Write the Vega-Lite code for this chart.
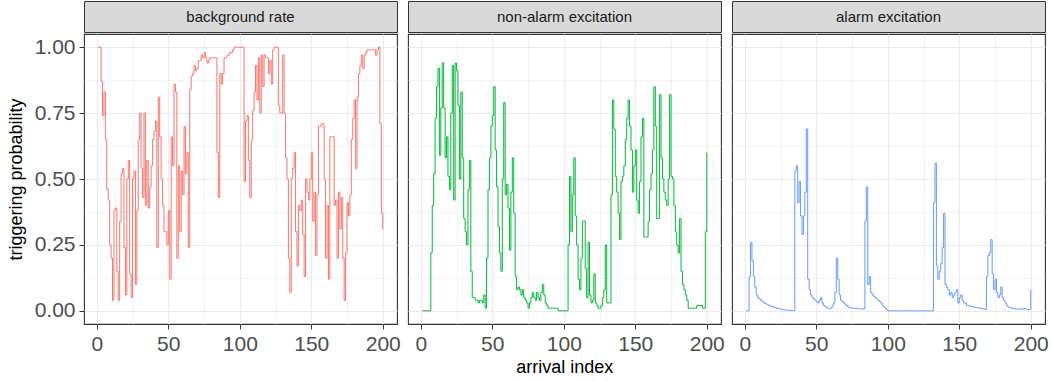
{
  "$schema": "https://vega.github.io/schema/vega-lite/v6.json",
  "padding": {"left": 6, "top": 0, "right": 0, "bottom": 0},
  "config": {
    "font": "Liberation Sans",
    "view": {"stroke": "#333333", "strokeWidth": 1.1},
    "axis": {"domain": false, "gridColor": "#EBEBEB", "tickColor": "#333333", "tickSize": 5, "labelColor": "#4D4D4D", "labelFontSize": 21, "labelPadding": 4, "titleFontSize": 18, "titleColor": "#000000", "titleFontWeight": "normal", "labelOverlap": false},
    "concat": {"spacing": 6}
  },
  "title": {"text": "arrival index", "orient": "bottom", "anchor": "middle", "fontSize": 18, "fontWeight": "normal", "color": "#000000", "offset": 4, "dx": 37},
  "datasets": {
    "bg": [{"i":1,"p":1},{"i":2,"p":1},{"i":3,"p":0.87},{"i":4,"p":0.74},{"i":5,"p":0.83},{"i":6,"p":0.65},{"i":7,"p":0.46},{"i":8,"p":0.42},{"i":9,"p":0.25},{"i":10,"p":0.2},{"i":11,"p":0.04},{"i":12,"p":0.38},{"i":13,"p":0.39},{"i":14,"p":0.15},{"i":15,"p":0.04},{"i":16,"p":0.34},{"i":17,"p":0.52},{"i":18,"p":0.54},{"i":19,"p":0.24},{"i":20,"p":0.06},{"i":21,"p":0.5},{"i":22,"p":0.57},{"i":23,"p":0.14},{"i":24,"p":0.05},{"i":25,"p":0.5},{"i":26,"p":0.53},{"i":27,"p":0.1},{"i":28,"p":0.38},{"i":29,"p":0.65},{"i":30,"p":0.75},{"i":31,"p":0.54},{"i":32,"p":0.43},{"i":33,"p":0.75},{"i":34,"p":0.4},{"i":35,"p":0.57},{"i":36,"p":0.39},{"i":37,"p":0.47},{"i":38,"p":0.55},{"i":39,"p":0.65},{"i":40,"p":0.68},{"i":41,"p":0.72},{"i":42,"p":0.24},{"i":43,"p":0.81},{"i":44,"p":0.66},{"i":45,"p":0.5},{"i":46,"p":0.4},{"i":47,"p":0.3},{"i":48,"p":0.3},{"i":49,"p":0.25},{"i":50,"p":0.38},{"i":51,"p":0.12},{"i":52,"p":0.66},{"i":53,"p":0.55},{"i":54,"p":0.86},{"i":55,"p":0.83},{"i":56,"p":0.2},{"i":57,"p":0.55},{"i":58,"p":0.3},{"i":59,"p":0.53},{"i":60,"p":0.44},{"i":61,"p":0.7},{"i":62,"p":0.52},{"i":63,"p":0.6},{"i":64,"p":0.24},{"i":65,"p":0.84},{"i":66,"p":0.89},{"i":67,"p":0.9},{"i":68,"p":0.93},{"i":69,"p":0.91},{"i":70,"p":0.92},{"i":71,"p":0.95},{"i":72,"p":0.95},{"i":73,"p":0.97},{"i":74,"p":0.96},{"i":75,"p":0.98},{"i":76,"p":0.96},{"i":77,"p":0.94},{"i":78,"p":0.95},{"i":79,"p":0.96},{"i":80,"p":0.96},{"i":81,"p":0.96},{"i":82,"p":0.96},{"i":83,"p":0.96},{"i":84,"p":0.6},{"i":85,"p":0.43},{"i":86,"p":0.9},{"i":87,"p":0.86},{"i":88,"p":0.9},{"i":89,"p":0.96},{"i":90,"p":0.96},{"i":91,"p":0.97},{"i":92,"p":0.97},{"i":93,"p":0.98},{"i":94,"p":0.98},{"i":95,"p":0.99},{"i":96,"p":1},{"i":97,"p":1},{"i":98,"p":1},{"i":99,"p":1},{"i":100,"p":1},{"i":101,"p":1},{"i":102,"p":1},{"i":103,"p":0.49},{"i":104,"p":0.72},{"i":105,"p":0.74},{"i":106,"p":0.57},{"i":107,"p":0.43},{"i":108,"p":0.65},{"i":109,"p":0.76},{"i":110,"p":0.83},{"i":111,"p":0.93},{"i":112,"p":0.8},{"i":113,"p":0.96},{"i":114,"p":0.75},{"i":115,"p":0.97},{"i":116,"p":0.85},{"i":117,"p":0.97},{"i":118,"p":0.96},{"i":119,"p":0.96},{"i":120,"p":0.9},{"i":121,"p":0.95},{"i":122,"p":0.86},{"i":123,"p":0.99},{"i":124,"p":1},{"i":125,"p":1},{"i":126,"p":1},{"i":127,"p":0.78},{"i":128,"p":0.75},{"i":129,"p":0.75},{"i":130,"p":0.97},{"i":131,"p":0.75},{"i":132,"p":0.58},{"i":133,"p":0.5},{"i":134,"p":0.2},{"i":135,"p":0.07},{"i":136,"p":0.5},{"i":137,"p":0.54},{"i":138,"p":0.6},{"i":139,"p":0.3},{"i":140,"p":0.17},{"i":141,"p":0.4},{"i":142,"p":0.38},{"i":143,"p":0.42},{"i":144,"p":0.29},{"i":145,"p":0.13},{"i":146,"p":0.5},{"i":147,"p":0.45},{"i":148,"p":0.42},{"i":149,"p":0.5},{"i":150,"p":0.6},{"i":151,"p":0.34},{"i":152,"p":0.45},{"i":153,"p":0.21},{"i":154,"p":0.44},{"i":155,"p":0.7},{"i":156,"p":0.7},{"i":157,"p":0.71},{"i":158,"p":0.71},{"i":159,"p":0.5},{"i":160,"p":0.2},{"i":161,"p":0.4},{"i":162,"p":0.12},{"i":163,"p":0.66},{"i":164,"p":0.66},{"i":165,"p":0.66},{"i":166,"p":0.4},{"i":167,"p":0.42},{"i":168,"p":0.2},{"i":169,"p":0.45},{"i":170,"p":0.31},{"i":171,"p":0.43},{"i":172,"p":0.2},{"i":173,"p":0.04},{"i":174,"p":0.22},{"i":175,"p":0.41},{"i":176,"p":0.36},{"i":177,"p":0.44},{"i":178,"p":0.65},{"i":179,"p":0.73},{"i":180,"p":0.8},{"i":181,"p":0.54},{"i":182,"p":0.81},{"i":183,"p":0.9},{"i":184,"p":0.93},{"i":185,"p":0.97},{"i":186,"p":0.92},{"i":187,"p":0.97},{"i":188,"p":0.98},{"i":189,"p":0.99},{"i":190,"p":0.99},{"i":191,"p":0.99},{"i":192,"p":0.99},{"i":193,"p":0.99},{"i":194,"p":0.99},{"i":195,"p":0.97},{"i":196,"p":0.99},{"i":197,"p":1},{"i":198,"p":0.71},{"i":199,"p":0.37},{"i":200,"p":0.31}],
    "na": [{"i":1,"p":0},{"i":2,"p":0},{"i":3,"p":0},{"i":4,"p":0},{"i":5,"p":0},{"i":6,"p":0},{"i":7,"p":0.22},{"i":8,"p":0.4},{"i":9,"p":0.52},{"i":10,"p":0.73},{"i":11,"p":0.85},{"i":12,"p":0.92},{"i":13,"p":0.59},{"i":14,"p":0.77},{"i":15,"p":0.94},{"i":16,"p":0.77},{"i":17,"p":0.58},{"i":18,"p":0.66},{"i":19,"p":0.51},{"i":20,"p":0.46},{"i":21,"p":0.75},{"i":22,"p":0.93},{"i":23,"p":0.42},{"i":24,"p":0.94},{"i":25,"p":0.91},{"i":26,"p":0.78},{"i":27,"p":0.5},{"i":28,"p":0.83},{"i":29,"p":0.58},{"i":30,"p":0.35},{"i":31,"p":0.3},{"i":32,"p":0.25},{"i":33,"p":0.46},{"i":34,"p":0.57},{"i":35,"p":0.15},{"i":36,"p":0.05},{"i":37,"p":0.05},{"i":38,"p":0.04},{"i":39,"p":0.04},{"i":40,"p":0.03},{"i":41,"p":0.04},{"i":42,"p":0.04},{"i":43,"p":0.03},{"i":44,"p":0.06},{"i":45,"p":0.01},{"i":46,"p":0.2},{"i":47,"p":0.46},{"i":48,"p":0.58},{"i":49,"p":0.7},{"i":50,"p":0.74},{"i":51,"p":0.85},{"i":52,"p":0.61},{"i":53,"p":0.47},{"i":54,"p":0.32},{"i":55,"p":0.22},{"i":56,"p":0.15},{"i":57,"p":0.5},{"i":58,"p":0.79},{"i":59,"p":0.44},{"i":60,"p":0.48},{"i":61,"p":0.39},{"i":62,"p":0.23},{"i":63,"p":0.45},{"i":64,"p":0.58},{"i":65,"p":0.37},{"i":66,"p":0.13},{"i":67,"p":0.08},{"i":68,"p":0.09},{"i":69,"p":0.08},{"i":70,"p":0.06},{"i":71,"p":0.08},{"i":72,"p":0.05},{"i":73,"p":0.04},{"i":74,"p":0.03},{"i":75,"p":0.01},{"i":76,"p":0.03},{"i":77,"p":0.05},{"i":78,"p":0.07},{"i":79,"p":0.05},{"i":80,"p":0.04},{"i":81,"p":0.07},{"i":82,"p":0.05},{"i":83,"p":0.04},{"i":84,"p":0.07},{"i":85,"p":0.1},{"i":86,"p":0.06},{"i":87,"p":0.03},{"i":88,"p":0.02},{"i":89,"p":0.01},{"i":90,"p":0.01},{"i":91,"p":0.01},{"i":92,"p":0.01},{"i":93,"p":0.01},{"i":94,"p":0.01},{"i":95,"p":0.01},{"i":96,"p":0},{"i":97,"p":0},{"i":98,"p":0},{"i":99,"p":0},{"i":100,"p":0},{"i":101,"p":0},{"i":102,"p":0},{"i":103,"p":0.25},{"i":104,"p":0.51},{"i":105,"p":0.3},{"i":106,"p":0.44},{"i":107,"p":0.58},{"i":108,"p":0.36},{"i":109,"p":0.25},{"i":110,"p":0.12},{"i":111,"p":0.08},{"i":112,"p":0.2},{"i":113,"p":0.34},{"i":114,"p":0.34},{"i":115,"p":0.16},{"i":116,"p":0.05},{"i":117,"p":0.26},{"i":118,"p":0.06},{"i":119,"p":0.03},{"i":120,"p":0.04},{"i":121,"p":0.14},{"i":122,"p":0.03},{"i":123,"p":0.02},{"i":124,"p":0.01},{"i":125,"p":0.01},{"i":126,"p":0.02},{"i":127,"p":0.05},{"i":128,"p":0.08},{"i":129,"p":0.25},{"i":130,"p":0.03},{"i":131,"p":0.03},{"i":132,"p":0.03},{"i":133,"p":0.44},{"i":134,"p":0.8},{"i":135,"p":0.69},{"i":136,"p":0.51},{"i":137,"p":0.45},{"i":138,"p":0.37},{"i":139,"p":0.27},{"i":140,"p":0.49},{"i":141,"p":0.51},{"i":142,"p":0.55},{"i":143,"p":0.65},{"i":144,"p":0.73},{"i":145,"p":0.8},{"i":146,"p":0.7},{"i":147,"p":0.61},{"i":148,"p":0.45},{"i":149,"p":0.55},{"i":150,"p":0.61},{"i":151,"p":0.42},{"i":152,"p":0.37},{"i":153,"p":0.49},{"i":154,"p":0.66},{"i":155,"p":0.73},{"i":156,"p":0.28},{"i":157,"p":0.28},{"i":158,"p":0.28},{"i":159,"p":0.34},{"i":160,"p":0.46},{"i":161,"p":0.52},{"i":162,"p":0.61},{"i":163,"p":0.85},{"i":164,"p":0.7},{"i":165,"p":0.35},{"i":166,"p":0.35},{"i":167,"p":0.82},{"i":168,"p":0.58},{"i":169,"p":0.5},{"i":170,"p":0.45},{"i":171,"p":0.42},{"i":172,"p":0.4},{"i":173,"p":0.5},{"i":174,"p":0.82},{"i":175,"p":0.51},{"i":176,"p":0.5},{"i":177,"p":0.4},{"i":178,"p":0.3},{"i":179,"p":0.25},{"i":180,"p":0.22},{"i":181,"p":0.35},{"i":182,"p":0.15},{"i":183,"p":0.1},{"i":184,"p":0.08},{"i":185,"p":0.06},{"i":186,"p":0.04},{"i":187,"p":0.01},{"i":188,"p":0.01},{"i":189,"p":0.01},{"i":190,"p":0.01},{"i":191,"p":0.01},{"i":192,"p":0.01},{"i":193,"p":0.02},{"i":194,"p":0.02},{"i":195,"p":0.02},{"i":196,"p":0.02},{"i":197,"p":0.01},{"i":198,"p":0.01},{"i":199,"p":0.3},{"i":200,"p":0.6}],
    "al": [{"i":1,"p":0},{"i":2,"p":0},{"i":3,"p":0.13},{"i":4,"p":0.26},{"i":5,"p":0.19},{"i":6,"p":0.13},{"i":7,"p":0.09},{"i":8,"p":0.06},{"i":9,"p":0.05},{"i":10,"p":0.045},{"i":11,"p":0.04},{"i":12,"p":0.035},{"i":13,"p":0.03},{"i":14,"p":0.028},{"i":15,"p":0.025},{"i":16,"p":0.022},{"i":17,"p":0.02},{"i":18,"p":0.018},{"i":19,"p":0.016},{"i":20,"p":0.014},{"i":21,"p":0.012},{"i":22,"p":0.01},{"i":23,"p":0.01},{"i":24,"p":0.008},{"i":25,"p":0.006},{"i":26,"p":0.004},{"i":27,"p":0.004},{"i":28,"p":0.003},{"i":29,"p":0.003},{"i":30,"p":0.002},{"i":31,"p":0.002},{"i":32,"p":0.001},{"i":33,"p":0.001},{"i":34,"p":0},{"i":35,"p":0.53},{"i":36,"p":0.55},{"i":37,"p":0.41},{"i":38,"p":0.49},{"i":39,"p":0.36},{"i":40,"p":0.29},{"i":41,"p":0.36},{"i":42,"p":0.45},{"i":43,"p":0.69},{"i":44,"p":0.12},{"i":45,"p":0.08},{"i":46,"p":0.06},{"i":47,"p":0.05},{"i":48,"p":0.045},{"i":49,"p":0.04},{"i":50,"p":0.035},{"i":51,"p":0.03},{"i":52,"p":0.04},{"i":53,"p":0.05},{"i":54,"p":0.03},{"i":55,"p":0.02},{"i":56,"p":0.015},{"i":57,"p":0.012},{"i":58,"p":0.01},{"i":59,"p":0.008},{"i":60,"p":0.01},{"i":61,"p":0.02},{"i":62,"p":0.03},{"i":63,"p":0.07},{"i":64,"p":0.2},{"i":65,"p":0.12},{"i":66,"p":0.06},{"i":67,"p":0.04},{"i":68,"p":0.035},{"i":69,"p":0.03},{"i":70,"p":0.025},{"i":71,"p":0.02},{"i":72,"p":0.015},{"i":73,"p":0.012},{"i":74,"p":0.011},{"i":75,"p":0.01},{"i":76,"p":0.01},{"i":77,"p":0.009},{"i":78,"p":0.009},{"i":79,"p":0.008},{"i":80,"p":0.008},{"i":81,"p":0.007},{"i":82,"p":0.007},{"i":83,"p":0.007},{"i":84,"p":0.34},{"i":85,"p":0.47},{"i":86,"p":0.1},{"i":87,"p":0.13},{"i":88,"p":0.07},{"i":89,"p":0.06},{"i":90,"p":0.055},{"i":91,"p":0.05},{"i":92,"p":0.045},{"i":93,"p":0.04},{"i":94,"p":0.035},{"i":95,"p":0.03},{"i":96,"p":0.02},{"i":97,"p":0.015},{"i":98,"p":0.01},{"i":99,"p":0.005},{"i":100,"p":0},{"i":101,"p":0},{"i":102,"p":0},{"i":103,"p":0},{"i":104,"p":0},{"i":105,"p":0},{"i":106,"p":0},{"i":107,"p":0},{"i":108,"p":0},{"i":109,"p":0},{"i":110,"p":0},{"i":111,"p":0},{"i":112,"p":0},{"i":113,"p":0},{"i":114,"p":0},{"i":115,"p":0},{"i":116,"p":0},{"i":117,"p":0},{"i":118,"p":0},{"i":119,"p":0},{"i":120,"p":0},{"i":121,"p":0},{"i":122,"p":0},{"i":123,"p":0},{"i":124,"p":0},{"i":125,"p":0},{"i":126,"p":0},{"i":127,"p":0},{"i":128,"p":0},{"i":129,"p":0},{"i":130,"p":0},{"i":131,"p":0},{"i":132,"p":0.41},{"i":133,"p":0.56},{"i":134,"p":0.17},{"i":135,"p":0.12},{"i":136,"p":0.15},{"i":137,"p":0.18},{"i":138,"p":0.24},{"i":139,"p":0.37},{"i":140,"p":0.1},{"i":141,"p":0.09},{"i":142,"p":0.08},{"i":143,"p":0.06},{"i":144,"p":0.07},{"i":145,"p":0.05},{"i":146,"p":0.06},{"i":147,"p":0.07},{"i":148,"p":0.08},{"i":149,"p":0.03},{"i":150,"p":0.05},{"i":151,"p":0.06},{"i":152,"p":0.04},{"i":153,"p":0.03},{"i":154,"p":0.03},{"i":155,"p":0.02},{"i":156,"p":0.02},{"i":157,"p":0.018},{"i":158,"p":0.016},{"i":159,"p":0.015},{"i":160,"p":0.014},{"i":161,"p":0.013},{"i":162,"p":0.012},{"i":163,"p":0.011},{"i":164,"p":0.01},{"i":165,"p":0.009},{"i":166,"p":0.008},{"i":167,"p":0.007},{"i":168,"p":0.005},{"i":169,"p":0.13},{"i":170,"p":0.21},{"i":171,"p":0.22},{"i":172,"p":0.27},{"i":173,"p":0.14},{"i":174,"p":0.08},{"i":175,"p":0.12},{"i":176,"p":0.07},{"i":177,"p":0.05},{"i":178,"p":0.06},{"i":179,"p":0.09},{"i":180,"p":0.05},{"i":181,"p":0.04},{"i":182,"p":0.03},{"i":183,"p":0.02},{"i":184,"p":0.015},{"i":185,"p":0.012},{"i":186,"p":0.01},{"i":187,"p":0.009},{"i":188,"p":0.008},{"i":189,"p":0.007},{"i":190,"p":0.007},{"i":191,"p":0.006},{"i":192,"p":0.006},{"i":193,"p":0.006},{"i":194,"p":0.008},{"i":195,"p":0.01},{"i":196,"p":0.008},{"i":197,"p":0.006},{"i":198,"p":0.005},{"i":199,"p":0.005},{"i":200,"p":0.08}]
  },
  "hconcat": [
    {
      "spacing": 0,
      "vconcat": [
        {"width": 313, "height": 31, "data": {"values": [{"label": "background rate"}]}, "view": {"fill": "#D9D9D9", "stroke": "#333333"}, "mark": {"type": "text", "fontSize": 15, "color": "#1A1A1A", "baseline": "middle", "align": "center"}, "encoding": {"text": {"field": "label"}}},
        {"width": 313, "height": 290, "data": {"name": "bg"}, "mark": {"type": "line", "color": "#F8766D", "strokeWidth": 1, "interpolate": "step-after"},
         "encoding": {
           "x": {"field": "i", "type": "quantitative", "scale": {"domain": [-8.95, 209.95], "nice": false, "zero": false}, "axis": {"title": null, "values": [0,25,50,75,100,125,150,175,200], "labelExpr": "datum.value % 50 === 0 ? datum.label : ''", "tickOpacity": {"condition": {"test": "datum.value % 50 !== 0", "value": 0}, "value": 1}, "gridWidth": {"condition": {"test": "datum.value % 50 !== 0", "value": 0.6}, "value": 1.1}}},
           "y": {"field": "p", "type": "quantitative", "scale": {"domain": [-0.05, 1.05], "nice": false, "zero": false}, "axis": {"title": "triggering probability", "titlePadding": 9, "format": ".2f", "values": [0,0.125,0.25,0.375,0.5,0.625,0.75,0.875,1], "labelExpr": "datum.value % 0.25 === 0 ? datum.label : ''", "tickOpacity": {"condition": {"test": "datum.value % 0.25 !== 0", "value": 0}, "value": 1}, "gridWidth": {"condition": {"test": "datum.value % 0.25 !== 0", "value": 0.6}, "value": 1.1}}}
         }}
      ]
    },
    {
      "spacing": 0,
      "vconcat": [
        {"width": 313, "height": 31, "data": {"values": [{"label": "non-alarm excitation"}]}, "view": {"fill": "#D9D9D9", "stroke": "#333333"}, "mark": {"type": "text", "fontSize": 15, "color": "#1A1A1A", "baseline": "middle", "align": "center"}, "encoding": {"text": {"field": "label"}}},
        {"width": 313, "height": 290, "data": {"name": "na"}, "mark": {"type": "line", "color": "#00BA38", "strokeWidth": 1, "interpolate": "step-after"},
         "encoding": {
           "x": {"field": "i", "type": "quantitative", "scale": {"domain": [-8.95, 209.95], "nice": false, "zero": false}, "axis": {"title": null, "values": [0,25,50,75,100,125,150,175,200], "labelExpr": "datum.value % 50 === 0 ? datum.label : ''", "tickOpacity": {"condition": {"test": "datum.value % 50 !== 0", "value": 0}, "value": 1}, "gridWidth": {"condition": {"test": "datum.value % 50 !== 0", "value": 0.6}, "value": 1.1}}},
           "y": {"field": "p", "type": "quantitative", "scale": {"domain": [-0.05, 1.05], "nice": false, "zero": false}, "axis": {"title": null, "labels": false, "ticks": false, "values": [0,0.125,0.25,0.375,0.5,0.625,0.75,0.875,1], "gridWidth": {"condition": {"test": "datum.value % 0.25 !== 0", "value": 0.6}, "value": 1.1}}}
         }}
      ]
    },
    {
      "spacing": 0,
      "vconcat": [
        {"width": 313, "height": 31, "data": {"values": [{"label": "alarm excitation"}]}, "view": {"fill": "#D9D9D9", "stroke": "#333333"}, "mark": {"type": "text", "fontSize": 15, "color": "#1A1A1A", "baseline": "middle", "align": "center"}, "encoding": {"text": {"field": "label"}}},
        {"width": 313, "height": 290, "data": {"name": "al"}, "mark": {"type": "line", "color": "#619CFF", "strokeWidth": 1, "interpolate": "step-after"},
         "encoding": {
           "x": {"field": "i", "type": "quantitative", "scale": {"domain": [-8.95, 209.95], "nice": false, "zero": false}, "axis": {"title": null, "values": [0,25,50,75,100,125,150,175,200], "labelExpr": "datum.value % 50 === 0 ? datum.label : ''", "tickOpacity": {"condition": {"test": "datum.value % 50 !== 0", "value": 0}, "value": 1}, "gridWidth": {"condition": {"test": "datum.value % 50 !== 0", "value": 0.6}, "value": 1.1}}},
           "y": {"field": "p", "type": "quantitative", "scale": {"domain": [-0.05, 1.05], "nice": false, "zero": false}, "axis": {"title": null, "labels": false, "ticks": false, "values": [0,0.125,0.25,0.375,0.5,0.625,0.75,0.875,1], "gridWidth": {"condition": {"test": "datum.value % 0.25 !== 0", "value": 0.6}, "value": 1.1}}}
         }}
      ]
    }
  ]
}
